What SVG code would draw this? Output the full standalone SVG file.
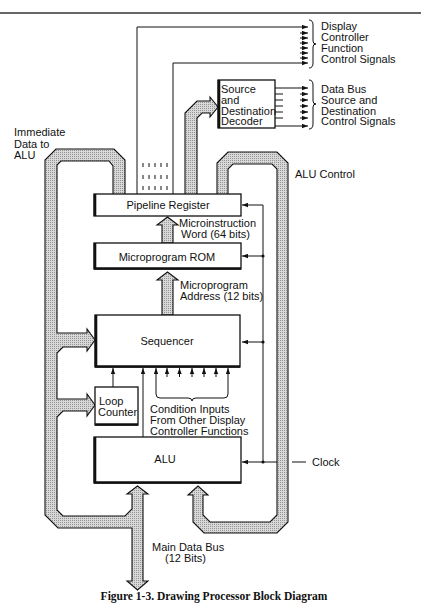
<svg xmlns="http://www.w3.org/2000/svg" width="421" height="603" viewBox="0 0 421 603">
<defs>
<pattern id="ht" width="2" height="2" patternUnits="userSpaceOnUse"><rect width="2" height="2" fill="#d8d8d8"/><rect width="1" height="1" fill="#959595"/></pattern>
<marker id="ah" markerWidth="6" markerHeight="5" refX="6" refY="2.5" orient="auto" markerUnits="userSpaceOnUse"><path d="M0,0.3 L6,2.5 L0,4.7 z" fill="#111"/></marker>
<style>
.t{font-family:"Liberation Sans",Arial,sans-serif;font-size:11px;fill:#111}
.c{text-anchor:middle}
.box{fill:#fff;stroke:#111;stroke-width:1.3}
.sh{stroke:#111;stroke-width:2.6;fill:none}
.bus{fill:url(#ht);stroke:#111;stroke-width:1.1;stroke-linejoin:miter}
.ln{stroke:#111;stroke-width:1;fill:none}
.ar{stroke:#111;stroke-width:1;fill:none;marker-end:url(#ah)}
.fat{fill:url(#ht);stroke:#111;stroke-width:1.1}
</style>
</defs>
<rect width="421" height="603" fill="#fff"/>
<line x1="0" y1="13" x2="421" y2="13" stroke="#333" stroke-width="1.3"/>

<g id="buses">
<path class="bus" d="M137.5,486 L148,494 L143,494 L143,581 L148,581 L137.5,590 L127,581 L132,581 L132,528 L58,528 L45,515 L45,160 L56,149 L114,149 L125,160 L125,195 L113,195 L113,166 L109,161 L61,161 L57,165 L57,333 L87,333 L87,329 L95,340 L87,351 L87,347 L63,347 L57,353 L57,399 L87,399 L87,394 L95,405 L87,416 L87,411 L63,411 L57,417 L57,510 L63,516 L125,516 L132,509 L132,494 L127,494 Z"/>
<path class="bus" d="M217,195 L217,163 L228,152 L277,152 L288,163 L288,522 L277,533 L204,533 L193,522 L193,495 L188,495 L198,486 L208,495 L203,495 L203,515 L210,522 L270,522 L277,515 L277,169 L272,164 L233,164 L228,169 L228,195 Z"/>
<path class="bus" d="M185,195 L185,113 L197,101 L210,101 L210,97 L218,107 L210,117 L210,113 L202,113 L197,118 L197,195 Z"/>
<path class="fat" d="M162,243 L162,225 L157,225 L167.5,217 L178,225 L173,225 L173,243 Z"/>
<path class="fat" d="M162,315 L162,280 L157,280 L167.5,272 L178,280 L173,280 L173,315 Z"/>
</g>

<g id="connectors">
<polyline class="ar" points="137,194 137,27 308,27"/>
<polyline class="ar" points="173,194 173,63 308,63"/>
<line class="ar" x1="300" y1="33" x2="308" y2="33"/>
<line class="ar" x1="300" y1="38" x2="308" y2="38"/>
<line class="ar" x1="300" y1="43" x2="308" y2="43"/>
<line class="ar" x1="300" y1="48" x2="308" y2="48"/>
<line class="ar" x1="300" y1="53" x2="308" y2="53"/>
<line class="ar" x1="300" y1="58" x2="308" y2="58"/>
<path class="ln" d="M309,20 Q313,20 313,25 L313,41 Q313,44 316,44 Q313,44 313,47 L313,63 Q313,68 309,68"/>

<line class="ar" x1="275" y1="88" x2="308" y2="88"/>
<line class="ar" x1="275" y1="126" x2="308" y2="126"/>
<line class="ln" x1="275" y1="94" x2="283" y2="94"/>
<line class="ln" x1="275" y1="100" x2="283" y2="100"/>
<line class="ln" x1="275" y1="106" x2="283" y2="106"/>
<line class="ln" x1="275" y1="112" x2="283" y2="112"/>
<line class="ln" x1="275" y1="118" x2="283" y2="118"/>
<line class="ar" x1="300" y1="94" x2="308" y2="94"/>
<line class="ar" x1="300" y1="100" x2="308" y2="100"/>
<line class="ar" x1="300" y1="106" x2="308" y2="106"/>
<line class="ar" x1="300" y1="112" x2="308" y2="112"/>
<line class="ar" x1="300" y1="118" x2="308" y2="118"/>
<path class="ln" d="M309,80 Q313,80 313,85 L313,101 Q313,104 316,104 Q313,104 313,107 L313,124 Q313,129 309,129"/>

<g stroke="#111" stroke-width="1">
<line x1="143" y1="163" x2="143" y2="167"/><line x1="149" y1="163" x2="149" y2="167"/><line x1="155" y1="163" x2="155" y2="167"/><line x1="161" y1="163" x2="161" y2="167"/><line x1="167" y1="163" x2="167" y2="167"/>
<line x1="143" y1="175" x2="143" y2="179"/><line x1="149" y1="175" x2="149" y2="179"/><line x1="155" y1="175" x2="155" y2="179"/><line x1="161" y1="175" x2="161" y2="179"/><line x1="167" y1="175" x2="167" y2="179"/>
<line x1="143" y1="186" x2="143" y2="190"/><line x1="149" y1="186" x2="149" y2="190"/><line x1="155" y1="186" x2="155" y2="190"/><line x1="161" y1="186" x2="161" y2="190"/><line x1="167" y1="186" x2="167" y2="190"/>
</g>

<polyline class="ar" points="263,462 263,205 242,205"/>
<line class="ar" x1="263" y1="256" x2="242" y2="256"/>
<line class="ar" x1="263" y1="342" x2="242" y2="342"/>
<line class="ar" x1="263" y1="462" x2="242" y2="462"/>
<line class="ln" x1="263" y1="462" x2="277" y2="462"/>
<line class="ln" x1="292" y1="462" x2="306" y2="462"/>
<circle cx="263" cy="256" r="1.6" fill="#111"/>
<circle cx="263" cy="342" r="1.6" fill="#111"/>
<circle cx="263" cy="462" r="1.6" fill="#111"/>

<line class="ar" x1="113" y1="387" x2="113" y2="368"/>
<line class="ar" x1="143" y1="437" x2="143" y2="368"/>
<line class="ar" x1="167" y1="377" x2="167" y2="368"/>
<line class="ar" x1="179.5" y1="377" x2="179.5" y2="368"/>
<line class="ar" x1="192" y1="377" x2="192" y2="368"/>
<line class="ar" x1="204" y1="377" x2="204" y2="368"/>
<line class="ar" x1="216" y1="377" x2="216" y2="368"/>
<path class="ar" d="M156,394 L156,368"/>
<path class="ar" d="M228,394 L228,368"/>
<path class="ln" d="M156,394 Q156,398 160,398 L188,398 Q192,398 192,401 Q192,398 196,398 L224,398 Q228,398 228,394"/>
</g>

<g id="pipeline"><rect class="box" x="94" y="194" width="147" height="22"/><line class="sh" x1="95" y1="194" x2="95" y2="216"/><text class="t c" x="168" y="208.5">Pipeline Register</text></g>
<g id="rom"><rect class="box" x="94" y="243" width="147" height="26"/><line class="sh" x1="95" y1="243" x2="95" y2="269"/><line class="sh" x1="94" y1="268.5" x2="241" y2="268.5"/><text class="t c" x="167" y="261">Microprogram ROM</text></g>
<g id="sequencer"><rect class="box" x="95" y="315" width="145" height="52"/><line class="sh" x1="96" y1="315" x2="96" y2="367"/><line class="sh" x1="95" y1="366.5" x2="240" y2="366.5"/><text class="t c" x="167" y="345">Sequencer</text></g>
<g id="loopcounter"><rect class="box" x="95" y="387" width="43" height="38"/><line class="sh" x1="95" y1="424.5" x2="138" y2="424.5"/><text class="t" x="99" y="405">Loop</text><text class="t" x="98" y="416">Counter</text></g>
<g id="alu"><rect class="box" x="94" y="437" width="147" height="46"/><line class="sh" x1="95" y1="437" x2="95" y2="483"/><line class="sh" x1="94" y1="482.5" x2="241" y2="482.5"/><text class="t c" x="165" y="463">ALU</text></g>
<g id="decoder"><rect class="box" x="218" y="80" width="57" height="48"/><line class="sh" x1="219" y1="80" x2="219" y2="128"/><text class="t" x="221" y="93">Source</text><text class="t" x="221" y="104">and</text><text class="t" x="221" y="114.5">Destination</text><text class="t" x="221" y="125">Decoder</text></g>

<g id="labels">
<text class="t" x="14" y="136">Immediate</text>
<text class="t" x="14" y="147.5">Data to</text>
<text class="t" x="14" y="159">ALU</text>
<text class="t" x="321" y="30">Display</text>
<text class="t" x="321" y="41">Controller</text>
<text class="t" x="321" y="52">Function</text>
<text class="t" x="321" y="63">Control Signals</text>
<text class="t" x="321" y="93">Data Bus</text>
<text class="t" x="321" y="104">Source and</text>
<text class="t" x="321" y="114.5">Destination</text>
<text class="t" x="321" y="125">Control Signals</text>
<text class="t" x="295" y="178">ALU Control</text>
<text class="t" x="179" y="227">Microinstruction</text>
<text class="t" x="181" y="238">Word (64 bits)</text>
<text class="t" x="180" y="289">Microprogram</text>
<text class="t" x="180" y="300">Address (12 bits)</text>
<text class="t" x="150" y="413">Condition Inputs</text>
<text class="t" x="150" y="424">From Other Display</text>
<text class="t" x="150" y="435">Controller Functions</text>
<text class="t" x="312" y="466">Clock</text>
<text class="t" x="152" y="551">Main Data Bus</text>
<text class="t" x="165" y="562">(12 Bits)</text>
<text x="214" y="600" text-anchor="middle" style="font-family:'Liberation Serif','Times New Roman',serif;font-size:11.5px;font-weight:bold;fill:#111">Figure 1-3.  Drawing Processor Block Diagram</text>
</g>
</svg>
